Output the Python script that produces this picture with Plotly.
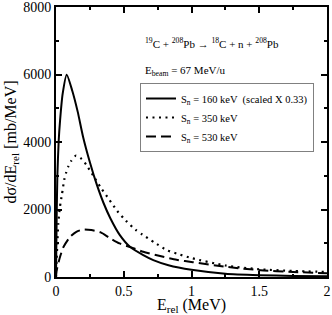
import plotly.graph_objects as go

# Solid: S_n = 160 keV (scaled X 0.33)
e_160 = [0, 0.005, 0.01, 0.02, 0.03, 0.049, 0.079, 0.12, 0.16, 0.2, 0.25, 0.3, 0.35, 0.4, 0.47, 0.55, 0.644, 0.718, 0.83, 1.0, 1.25, 1.5, 1.75, 2.0]
v_160 = [0, 1800, 3000, 4045, 4635, 5423, 5993, 5520, 4900, 4150, 3400, 2750, 2200, 1750, 1250, 880, 650, 502, 350, 215, 100, 55, 30, 20]

# Dotted: S_n = 350 keV
e_350 = [0, 0.005, 0.01, 0.017, 0.029, 0.044, 0.061, 0.074, 0.091, 0.111, 0.148, 0.19, 0.223, 0.275, 0.332, 0.393, 0.452, 0.517, 0.588, 0.637, 0.726, 0.817, 0.903, 1.0, 1.25, 1.5, 1.75, 2.0]
v_350 = [0, 550, 1000, 1590, 2075, 2450, 2884, 3080, 3277, 3434, 3600, 3493, 3327, 3003, 2637, 2294, 1957, 1663, 1397, 1260, 1024, 797, 679, 560, 340, 230, 180, 150]

# Dashed: S_n = 530 keV
e_530 = [0, 0.005, 0.02, 0.03, 0.055, 0.104, 0.15, 0.2, 0.26, 0.33, 0.395, 0.469, 0.555, 0.644, 0.768, 0.89, 1.01, 1.26, 1.51, 1.75, 2.0]
v_530 = [0, 200, 450, 600, 890, 1190, 1340, 1405, 1390, 1320, 1160, 995, 877, 747, 620, 510, 440, 300, 200, 150, 110]

x_ticks = [0, 0.5, 1, 1.5, 2]
x_ticktext = ["0", "0.5", "1", "1.5", "2"]
y_ticks = [0, 2000, 4000, 6000, 8000]

names = ["S<sub>n</sub> = 160 keV  (scaled X 0.33)", "S<sub>n</sub> = 350 keV", "S<sub>n</sub> = 530 keV"]

FONT = "Liberation Serif, Times New Roman, Times, serif"

fig = go.Figure()
fig.add_trace(go.Scatter(x=e_160, y=v_160, mode="lines", name=names[0],
                         line=dict(color="black", width=2, shape="spline", smoothing=0.6)))
fig.add_trace(go.Scatter(x=e_350, y=v_350, mode="lines", name=names[1],
                         line=dict(color="black", width=2.2, dash="2px,4.5px", shape="spline", smoothing=0.6)))
fig.add_trace(go.Scatter(x=e_530, y=v_530, mode="lines", name=names[2],
                         line=dict(color="black", width=2, dash="10px,5px", shape="spline", smoothing=0.6)))

axis_common = dict(
    showgrid=False, zeroline=False, showline=True, linecolor="black", linewidth=2,
    mirror="ticks", ticks="inside", ticklen=6, tickwidth=1.5, tickcolor="black",
    tickfont=dict(family=FONT, size=14, color="black"), ticklabeloverflow="allow",
    automargin=False,
)

fig.update_xaxes(range=[0, 2], tickvals=x_ticks, ticktext=x_ticktext,
                 minor=dict(ticks="inside", ticklen=3, dtick=0.25, tickcolor="black", tickwidth=1.5),
                 title=dict(text="E<sub>rel</sub> (MeV)", font=dict(family=FONT, size=16, color="black"), standoff=5),
                 **axis_common)
fig.update_yaxes(range=[0, 8000], tickvals=y_ticks,
                 minor=dict(ticks="inside", ticklen=3, dtick=1000, tickcolor="black", tickwidth=1.5),
                 title=dict(text="dσ/dE<sub>rel</sub> [mb/MeV]", font=dict(family=FONT, size=16, color="black"), standoff=3),
                 **axis_common)

fig.add_annotation(x=0.321, y=0.867, xref="paper", yref="paper", xanchor="left", yanchor="middle", showarrow=False,
                   text="<sup>19</sup>C + <sup>208</sup>Pb → <sup>18</sup>C + n + <sup>208</sup>Pb",
                   font=dict(family=FONT, size=11, color="black"))
fig.add_annotation(x=0.321, y=0.763, xref="paper", yref="paper", xanchor="left", yanchor="middle", showarrow=False,
                   text="E<sub>beam</sub> = 67 MeV/u",
                   font=dict(family=FONT, size=11, color="black"))

fig.update_layout(
    width=332, height=315,
    margin=dict(l=56, r=5, t=7, b=38),
    paper_bgcolor="white", plot_bgcolor="white",
    font=dict(family=FONT, color="black"),
    showlegend=True,
    legend=dict(x=0.952, y=0.7185, xanchor="right", yanchor="top",
                bordercolor="#808080", borderwidth=1, bgcolor="white",
                font=dict(family=FONT, size=10.5, color="black"),
                itemwidth=30, tracegroupgap=0),
)

fig.write_html("out.html", config={"displayModeBar": False},
               post_script="document.body.style.margin='0';document.body.style.padding='0';")
